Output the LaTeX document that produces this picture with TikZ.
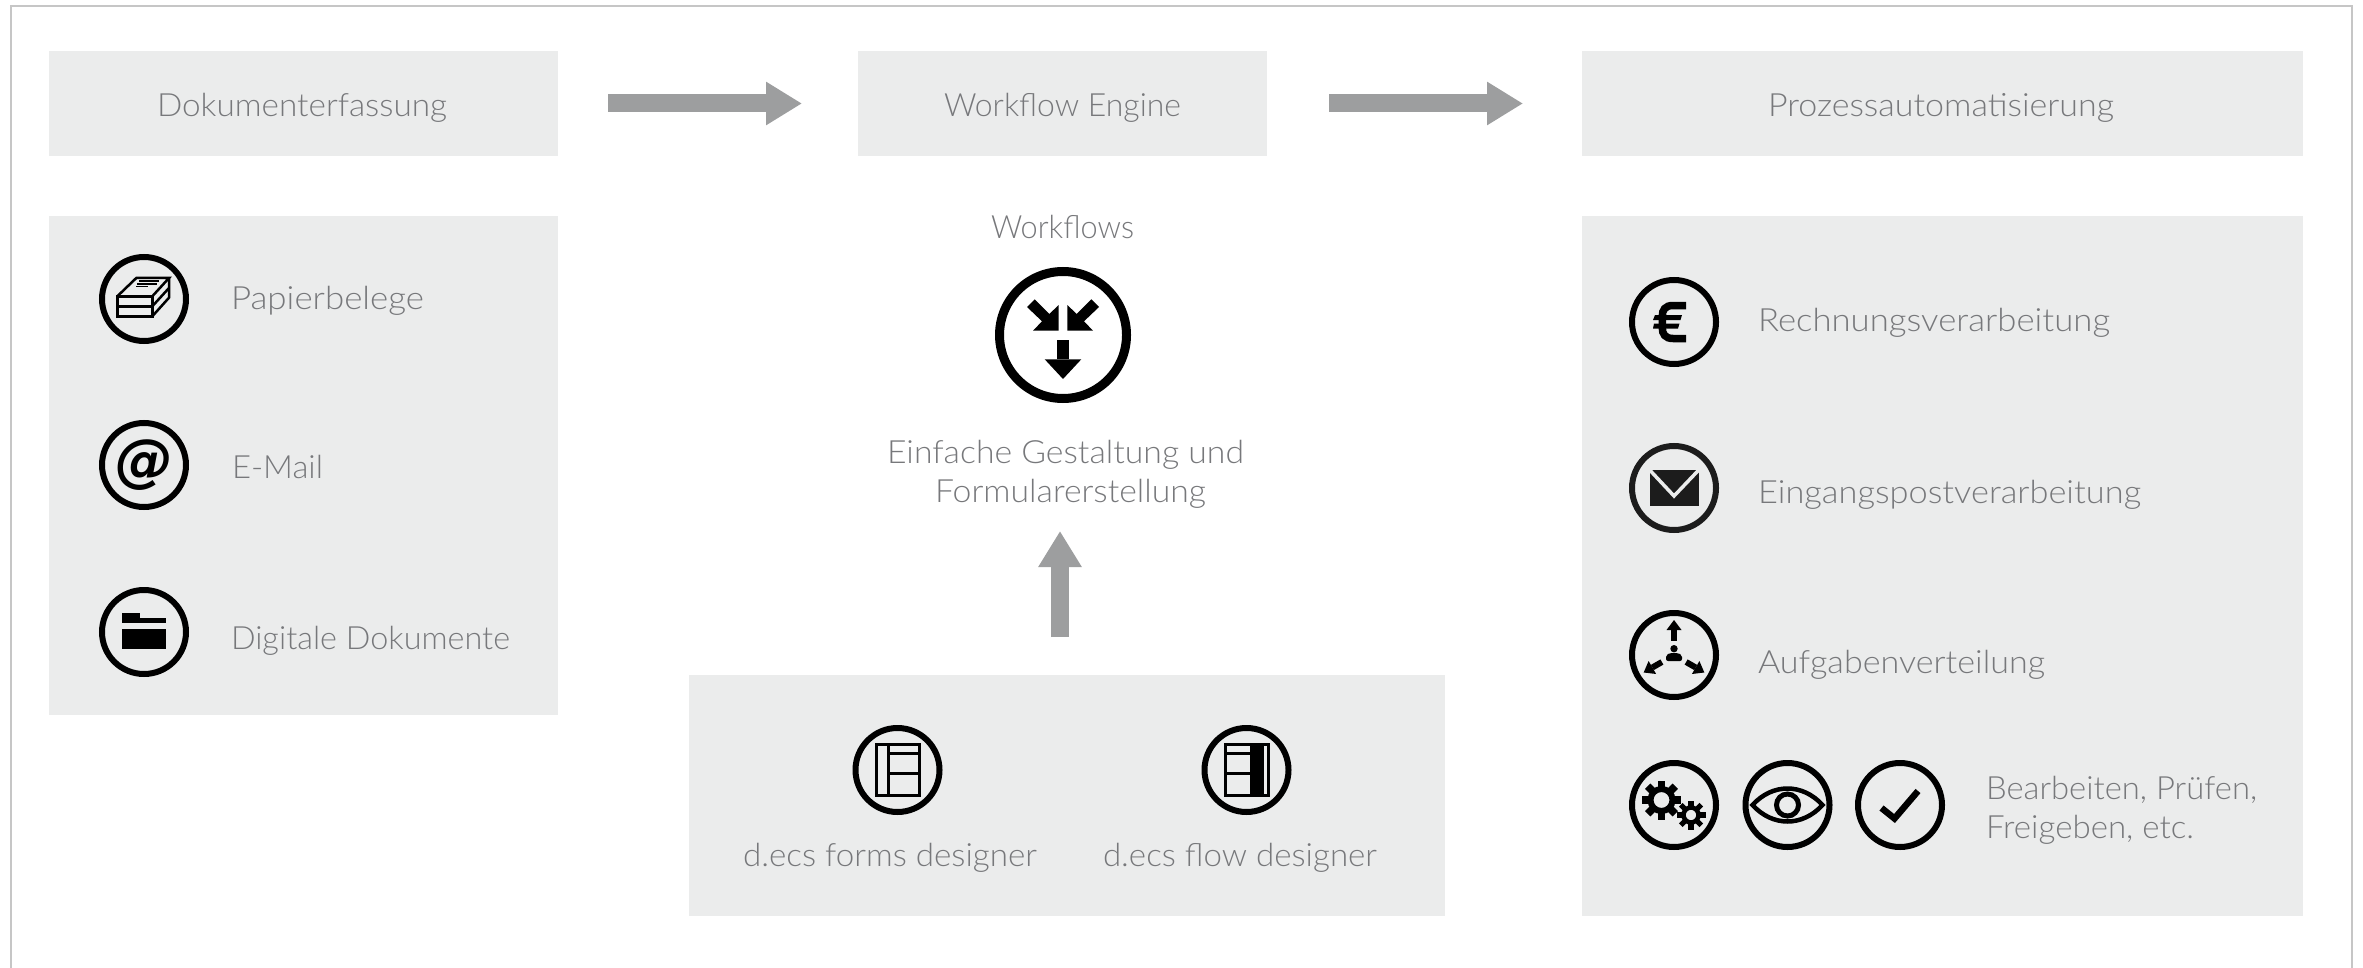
\documentclass[tikz,border=0pt]{standalone}
\usepackage{fontspec}
\usepackage{graphicx}
\setmainfont{Lato}[UprightFont=* Light]
\newfontfamily\atfont{DejaVu Sans}
\usetikzlibrary{arrows.meta}
\definecolor{boxbg}{HTML}{EBECEC}
\definecolor{arrowgrey}{HTML}{9D9E9F}
\definecolor{labelgrey}{HTML}{77787B}
\definecolor{framegrey}{HTML}{C6C6C6}
\newcommand{\fitw}[2]{\resizebox{#1pt}{\height}{#2}}
\tikzset{
  x=1pt,y=-1pt,
  panel/.style={fill=boxbg,draw=none,inner sep=0pt,outer sep=0pt},
  label/.style={text=labelgrey,inner sep=0pt,outer sep=0pt,anchor=base west,font=\fontsize{32}{36}\selectfont},
  clabel/.style={label,anchor=base},
  ring/.style={circle,draw=black,line width=6pt,minimum size=84pt,inner sep=0pt},
  bigring/.style={circle,draw=black,line width=9pt,minimum size=127pt,inner sep=0pt},
  bigarrow/.style={draw=arrowgrey,line width=18pt,-{Triangle[length=36pt,width=41pt,fill=arrowgrey]}},
  iconline/.style={draw=black,line width=2.5pt,line join=miter},
}
\begin{document}
\begin{tikzpicture}
\useasboundingbox (0,0) rectangle (2363,968);
\draw[framegrey,line width=2pt] (11,968) -- (11,6) -- (2352,6) -- (2352,968);

% panels
\node[panel,minimum width=509pt,minimum height=105pt] (top1) at (303.5,103.5) {};
\node[panel,minimum width=409pt,minimum height=105pt] (top2) at (1062.5,103.5) {};
\node[panel,minimum width=721pt,minimum height=105pt] (top3) at (1942.5,103.5) {};
\node[panel,minimum width=509pt,minimum height=499pt] (left) at (303.5,465.5) {};
\node[panel,minimum width=756pt,minimum height=241pt] (bottom) at (1067,795.5) {};
\node[panel,minimum width=721pt,minimum height=700pt] (right) at (1942.5,566) {};

% connectors
\draw[bigarrow] ([xshift=50pt]top1.east) -- ([xshift=-56pt]top2.west);
\draw[bigarrow] ([xshift=62pt]top2.east) -- ([xshift=-59pt]top3.west);
\coordinate (uptip) at (1060,531);
\draw[bigarrow] ([xshift=-7pt,yshift=38pt]bottom.north) -- (uptip);

% header labels
\node[label] (t1) at (157,117) {\fitw{290}{Dokumenterfassung}};
\node[label] (t2) at (944,117) {\fitw{237}{Workflow Engine}};
\node[label] (t3) at (1768,117) {\fitw{346}{Prozessautomatisierung}};

% left column
\node[ring] (c1) at (144,299) {};
\node[ring] (c2) at (144,465) {};
\node[ring] (c3) at (144,632) {};
\node[label] (l1) at (231,309) {\fitw{193}{Papierbelege}};
\node[label] (l2) at (232,478) {\fitw{91}{E-Mail}};
\node[label] (l3) at (231,649) {\fitw{279}{Digitale Dokumente}};

\begin{scope}[shift={(c1.center)}]
  \draw[iconline] (-26.7,-2.7) rectangle (8.3,17.3);
  \draw[iconline] (-26.7,7.3) -- (8.3,7.3);
  \draw[iconline] (-26.7,-2.7) -- (-7.7,-21) -- (25,-21) -- (8.3,-2.7);
  \draw[iconline] (25,-21) -- (25,-1.3) -- (8.3,17.3);
  \draw[iconline] (8.3,7.3) -- (25,-11);
  \draw[draw=black,line width=1.2pt] (-5,-18) -- (15,-18) (-7,-15) -- (13,-15) (-8,-12.5) -- (4,-12.5);
\end{scope}
\node[inner sep=0pt,font=\atfont\bfseries\itshape\fontsize{58}{58}\selectfont] (at) at (c2.center) {@};
\begin{scope}[shift={(c3.center)}]
  \fill[black] (-22,-19) rectangle (-4.3,-9);
  \fill[black] (-22,-14.3) rectangle (22.3,-9);
  \fill[black] (-22,-3.3) rectangle (22.3,17.3);
\end{scope}

% middle column
\node[clabel] (wf) at (1062.5,239) {\fitw{143}{Workflows}};
\node[bigring] (c4) at (1063,335) {};
\begin{scope}[shift={(c4.center)}]
  \fill[black] (-6.3,5) rectangle (6.3,24.3);
  \fill[black] (-18.3,24.3) -- (18.3,24.3) -- (0,44) -- cycle;
  \fill[black] (-4.3,-4.3) -- (-4.3,-30) -- (-13.7,-21) -- (-28.3,-35.7) -- (-36,-28) -- (-21,-13.7) -- (-30,-4.3) -- cycle;
  \fill[black] (4.3,-4.3) -- (4.3,-30) -- (13.7,-21) -- (28.3,-35.7) -- (36,-28) -- (21,-13.7) -- (30,-4.3) -- cycle;
\end{scope}
\node[label] (g1) at (887,463) {\fitw{357}{Einfache Gestaltung und}};
\node[label] (g2) at (935,502) {\fitw{271}{Formularerstellung}};

% bottom panel
\node[ring] (c5) at (897.5,770) {};
\node[ring] (c6) at (1246.5,770) {};
\node[label] (b1) at (743,866) {\fitw{294}{d.ecs forms designer}};
\node[label] (b2) at (1103,866) {\fitw{274}{d.ecs flow designer}};
\begin{scope}[shift={(c5.center)}]
  \draw[draw=black,line width=3.5pt] (-21,-25.5) rectangle (22,25.5);
  \draw[draw=black,line width=3pt] (-9,-25.5) -- (-9,25.5) (-9,-16.5) -- (22,-16.5) (-9,3) -- (22,3);
\end{scope}
\begin{scope}[shift={(c6.center)}]
  \fill[black] (3.5,-25.5) rectangle (17,25.5);
  \draw[draw=black,line width=3.5pt] (-21,-25.5) rectangle (22,25.5);
  \draw[draw=black,line width=3pt] (-21,-16.5) -- (4,-16.5) (-21,3) -- (4,3);
\end{scope}

% right column
\node[ring] (c7) at (1674,322) {};
\node[ring,draw=black!88!boxbg] (c8) at (1674,488) {};
\node[ring] (c9) at (1674,655) {};
\node[ring] (c10) at (1674,805) {};
\node[ring] (c11) at (1787.5,805) {};
\node[ring] (c12) at (1900,805) {};
\node[label] (r1) at (1758,331) {\fitw{352}{Rechnungsverarbeitung}};
\node[label] (r2) at (1758,503) {\fitw{383}{Eingangspostverarbeitung}};
\node[label] (r3) at (1758,673) {\fitw{287}{Aufgabenverteilung}};
\node[label] (r4) at (1986,799) {\fitw{271}{Bearbeiten, Prüfen,}};
\node[label] (r5) at (1986,838) {\fitw{208}{Freigeben, etc.}};

\begin{scope}[shift={(c7.center)}]
  \draw[black,line width=7.5pt,line cap=butt] (12,-16.5) -- (-1,-16.5) .. controls (-9,-16.5) and (-11.7,-12) .. (-11.7,-6) -- (-11.7,6) .. controls (-11.7,12) and (-9,16.5) .. (-1,16.5) -- (12,16.5);
  \fill[black] (-19,-7) -- (8,-7) -- (6.5,-2) -- (-21,-2) -- cycle;
  \fill[black] (-20,1.5) -- (5.5,1.5) -- (4,6.5) -- (-21,6.5) -- cycle;
\end{scope}
\begin{scope}[shift={(c8.center)}]
  \fill[black!88!boxbg] (-24.3,-17.7) rectangle (24.7,17.7);
  \draw[boxbg,line width=3.5pt] (-24.8,-18.5) -- (0,8) -- (25.2,-18.5);
\end{scope}
\begin{scope}[shift={(c9.center)}]
  \foreach \r in {0,120,240} {
    \fill[black,rotate=\r] (-3,-14) rectangle (3,-25);
    \fill[black,rotate=\r] (-7.5,-25) -- (7.5,-25) -- (0,-35) -- cycle;
  }
  \fill[black] (0,-6.3) circle (3.7);
  \fill[black,rounded corners=2pt] (-8,6) -- (-8,0) -- (-4,-2) -- (4,-2) -- (8,0) -- (8,6) -- cycle;
\end{scope}
\begin{scope}[shift={(c10.center)}]
  \begin{scope}[shift={(-12.5,-5)}]
    \draw[black,line width=6pt] (0,0) circle (11);
    \foreach \r in {0,45,...,315} {\fill[black,rotate=\r] (-3.8,-11) rectangle (3.8,-19.5);}
  \end{scope}
  \begin{scope}[shift={(17,10)}]
    \draw[black,line width=4.5pt] (0,0) circle (7.5);
    \foreach \r in {0,45,...,315} {\fill[black,rotate=\r] (-2.6,-7) rectangle (2.6,-14.5);}
  \end{scope}
\end{scope}
\begin{scope}[shift={(c11.center)}]
  \draw[black,line width=4.5pt] (-35,0) .. controls (-15,-22) and (15,-22) .. (35,0) .. controls (15,22) and (-15,22) .. cycle;
  \draw[black,line width=5pt] (0,0) circle (11);
\end{scope}
\begin{scope}[shift={(c12.center)}]
  \draw[black,line width=6.5pt] (-18.5,3) -- (-5.5,13.5) -- (18,-14);
\end{scope}
\end{tikzpicture}
\end{document}
